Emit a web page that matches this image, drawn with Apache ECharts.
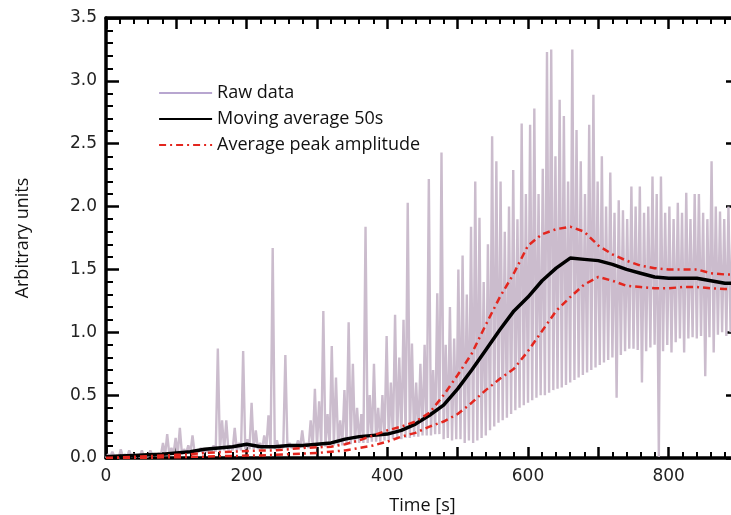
<!DOCTYPE html>
<html>
<head>
<meta charset="utf-8">
<script src="https://cdn.jsdelivr.net/npm/echarts@6/dist/echarts.min.js"></script>
<style>html,body{margin:0;padding:0;background:#fff;}#chart{width:731px;height:515px;}</style>
</head>
<body>
<div id="chart"></div>
<script>
// ---- data ----
var avgTime = [0,20,40,60,80,100,120,140,160,180,200,220,240,260,280,300,320,340,360,380,400,420,440,460,480,500,520,540,560,580,600,620,640,660,680,700,720,740,760,780,800,820,840,860,880,900];
var movingAvg = [0.01,0.015,0.02,0.025,0.03,0.04,0.05,0.07,0.08,0.09,0.11,0.09,0.09,0.10,0.10,0.11,0.12,0.15,0.17,0.18,0.19,0.22,0.27,0.34,0.42,0.55,0.70,0.86,1.02,1.17,1.28,1.41,1.51,1.59,1.58,1.57,1.54,1.50,1.47,1.44,1.43,1.43,1.43,1.41,1.39,1.39];
var peakUpper = [0.0,0.005,0.01,0.015,0.02,0.025,0.03,0.04,0.045,0.05,0.055,0.06,0.06,0.07,0.08,0.085,0.09,0.11,0.14,0.18,0.22,0.25,0.29,0.36,0.50,0.66,0.83,1.06,1.28,1.47,1.69,1.78,1.82,1.84,1.80,1.69,1.62,1.57,1.53,1.51,1.50,1.50,1.50,1.47,1.46,1.46];
var peakLower = [0.0,0.0,0.0,0.0,0.005,0.005,0.01,0.01,0.015,0.015,0.02,0.02,0.025,0.03,0.035,0.04,0.05,0.06,0.08,0.10,0.13,0.17,0.20,0.25,0.29,0.35,0.44,0.54,0.63,0.71,0.85,1.01,1.17,1.28,1.38,1.44,1.41,1.37,1.36,1.35,1.35,1.36,1.36,1.35,1.345,1.345];
var rawStep = 3; // seconds between raw samples
var rawData = [
0,0.03,0.01,0.05,0.01,0.02,0.0,0.07,0.01,0.03,
0.01,0.06,0.01,0.03,0.01,0.02,0.01,0.06,0.01,0.02,
0.01,0.06,0.02,0.03,0.02,0.04,0.02,0.12,0.02,0.19,
0.03,0.08,0.03,0.16,0.03,0.24,0.03,0.07,0.04,0.10,
0.04,0.18,0.04,0.06,0.05,0.08,0.04,0.06,0.05,0.07,
0.05,0.10,0.05,0.87,0.05,0.30,0.06,0.30,0.06,0.10,
0.06,0.24,0.06,0.12,0.06,0.85,0.07,0.15,0.07,0.44,
0.07,0.22,0.07,0.12,0.07,0.18,0.08,0.34,0.07,1.67,
0.07,0.14,0.07,0.10,0.08,0.82,0.08,0.12,0.08,0.10,
0.08,0.14,0.08,0.22,0.08,0.12,0.08,0.30,0.09,0.55,
0.09,0.45,0.09,1.17,0.09,0.35,0.10,0.89,0.10,0.64,
0.10,0.30,0.10,0.54,0.11,1.08,0.11,0.75,0.12,0.40,
0.12,0.35,0.12,1.84,0.12,0.50,0.13,0.75,0.13,0.40,
0.13,0.50,0.14,0.97,0.14,0.60,0.15,1.14,0.15,0.80,
0.15,1.10,0.16,2.03,0.16,0.91,0.17,0.60,0.17,0.75,
0.18,0.90,0.18,2.22,0.18,0.70,0.19,1.31,0.19,2.43,
0.15,0.90,0.16,1.20,0.14,0.95,0.15,1.50,0.15,1.61,
0.12,1.30,0.14,1.84,0.12,2.20,0.14,1.91,0.16,1.40,
0.18,1.70,0.22,2.56,0.25,2.36,0.28,2.20,0.30,1.80,
0.32,2.00,0.35,2.29,0.38,1.90,0.40,2.66,0.42,2.10,
0.44,2.65,0.46,2.78,0.48,2.10,0.50,2.30,0.50,3.23,
0.52,3.25,0.54,2.40,0.55,2.85,0.56,2.72,0.58,2.20,
0.60,3.25,0.62,2.61,0.64,2.36,0.66,2.10,0.68,2.65,
0.70,2.89,0.72,2.20,0.74,2.40,0.76,2.00,0.78,2.27,
0.80,1.95,0.48,2.05,0.82,1.97,0.85,1.90,0.87,2.16,
0.87,2.00,0.86,2.16,0.60,1.95,0.85,2.00,0.88,2.24,
0.90,2.10,0.01,2.24,0.85,1.95,0.90,2.00,0.84,1.90,
0.92,2.03,0.95,1.95,0.84,2.11,0.95,1.90,0.96,2.10,
0.95,2.10,0.97,1.95,0.65,1.90,0.96,2.36,0.84,2.00,
0.98,1.96,1.00,1.90,0.97,2.00,1.00,1.95,0.99,1.92,
1.00
];
var xTicks = {min:0, max:900, interval:100, labelEvery:200};
var yTicks = {min:0, max:3.5, interval:0.5};

// ---- build chart ----
function pairs(xs, ys){ return ys.map(function(v,i){ return [xs[i], v]; }); }
var rawPairs = rawData.map(function(v,i){ return [i*rawStep, v]; });

var axisColor = '#000';
var labelFont = {color:'#222', fontFamily:'DejaVu Sans', fontSize:17};
function xAx(pos, showLabel){
  return {
    type:'value', position:pos, min:xTicks.min, max:xTicks.max, interval:xTicks.interval,
    axisLine:{show:true, onZero:false, lineStyle:{color:axisColor, width:3.5}},
    axisTick:{show:true, inside:true, length:11, lineStyle:{color:axisColor, width:2.5}},
    minorTick:{show:true, splitNumber:5, length:6, lineStyle:{color:axisColor, width:2}},
    splitLine:{show:false},
    axisLabel:Object.assign({show:showLabel, margin:10, formatter:function(v){ return v % xTicks.labelEvery === 0 ? String(v) : ''; }}, labelFont)
  };
}
function yAx(pos, showLabel){
  return {
    type:'value', position:pos, min:yTicks.min, max:yTicks.max, interval:yTicks.interval,
    axisLine:{show:true, onZero:false, lineStyle:{color:axisColor, width:3.5}},
    axisTick:{show:true, inside:true, length:13, lineStyle:{color:axisColor, width:2.5}},
    minorTick:{show:true, splitNumber:5, length:7, lineStyle:{color:axisColor, width:2}},
    splitLine:{show:false},
    axisLabel:Object.assign({show:showLabel, margin:9, formatter:function(v){ return v.toFixed(1); }}, labelFont)
  };
}
var xBottom = xAx('bottom', true);
xBottom.name = 'Time [s]';
xBottom.nameLocation = 'middle';
xBottom.nameGap = 39;
xBottom.nameTextStyle = {color:'#111', fontFamily:'Open Sans', fontSize:18};
var xTop = xAx('top', false);
var yLeft = yAx('left', true);
yLeft.name = 'Arbitrary units';
yLeft.nameLocation = 'middle';
yLeft.nameGap = 74;
yLeft.nameTextStyle = {color:'#111', fontFamily:'Open Sans', fontSize:18};
var yRight = yAx('right', false);

var redStyle = {color:'#e3261e', width:2.5, type:[7,4,2,4]};
var chart = echarts.init(document.getElementById('chart'), null, {renderer:'canvas'});
chart.setOption({
  animation:false,
  backgroundColor:'#fff',
  grid:{left:106, top:18, width:633, height:440, containLabel:false, outerBoundsMode:'none'},
  xAxis:[xBottom, xTop],
  yAxis:[yLeft, yRight],
  legend:{
    orient:'vertical', left:158, top:84, padding:0, itemWidth:53, itemHeight:14, itemGap:8,
    itemStyle:{opacity:0},
    textStyle:{color:'#111', fontFamily:'Open Sans', fontSize:18},
    data:[
      {name:'Raw data', lineStyle:{color:'#b8a6d0', width:2}},
      {name:'Moving average 50s', lineStyle:{color:'#000', width:2.2}},
      {name:'Average peak amplitude', lineStyle:{color:'#e3261e', width:2.2, type:[7,4,2,4]}}
    ]
  },
  series:[
    {name:'Raw data', type:'line', data:rawPairs, symbol:'none', z:1,
     lineStyle:{color:'#cbbccd', width:2.4}, itemStyle:{color:'#b9a6d0'}},
    {name:'Moving average 50s', type:'line', data:pairs(avgTime, movingAvg), symbol:'none', z:3,
     lineStyle:{color:'#000', width:3.5}, itemStyle:{color:'#000'}},
    {name:'Average peak amplitude', type:'line', data:pairs(avgTime, peakUpper), symbol:'none', z:4,
     lineStyle:redStyle, itemStyle:{color:'#e3261e'}},
    {name:'Average peak amplitude', type:'line', data:pairs(avgTime, peakLower), symbol:'none', z:4,
     lineStyle:redStyle, itemStyle:{color:'#e3261e'}}
  ]
});
</script>
</body>
</html>
